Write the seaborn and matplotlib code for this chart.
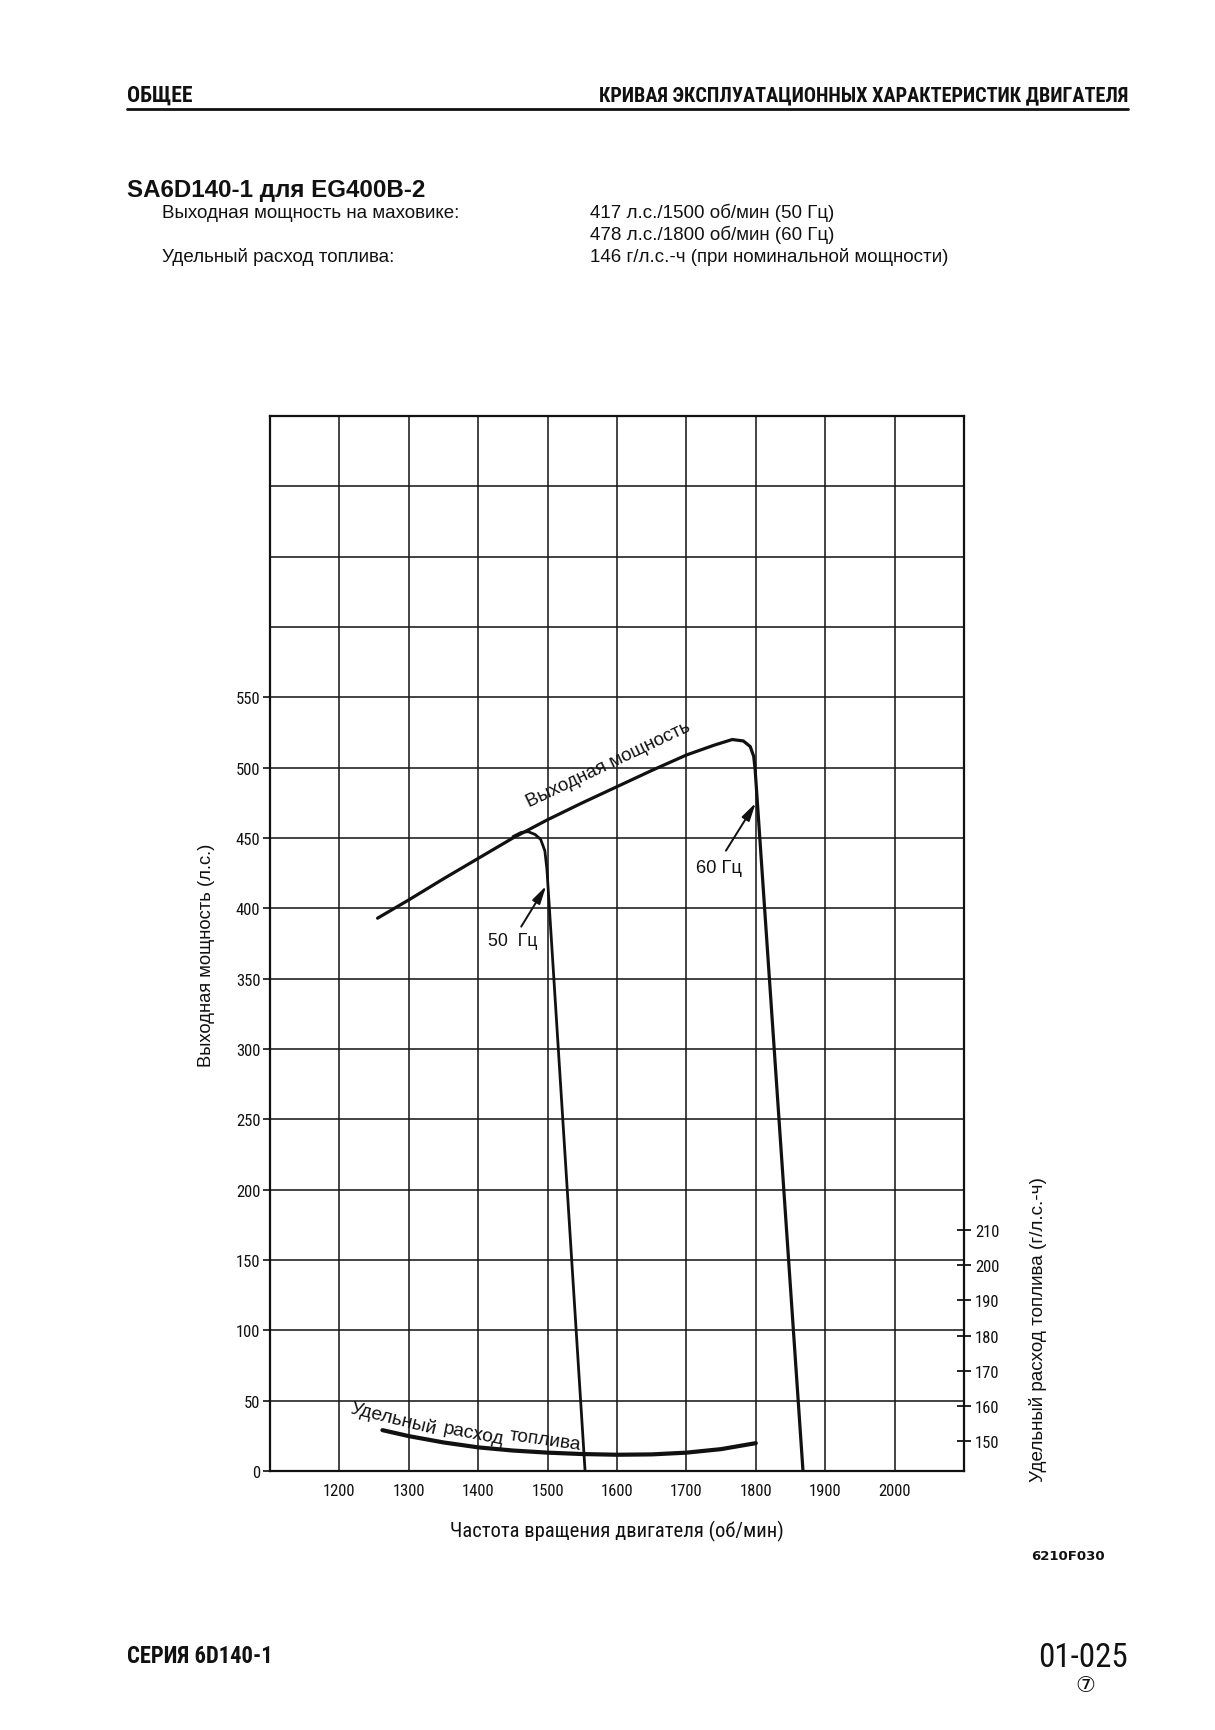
import matplotlib
matplotlib.use("Agg")
import matplotlib.pyplot as plt
import matplotlib.font_manager as fm
from matplotlib.lines import Line2D
import seaborn as sns
import pandas as pd

# ---------------- data ----------------
rpm_ticks = [1200, 1300, 1400, 1500, 1600, 1700, 1800, 1900, 2000]
hp_ticks = [0, 50, 100, 150, 200, 250, 300, 350, 400, 450, 500, 550]
fuel_ticks = [150, 160, 170, 180, 190, 200, 210]

# output power curve incl. 60 Hz governor droop
power_rpm = [1255, 1300, 1350, 1400, 1450, 1500, 1550, 1600, 1650, 1700, 1740,
             1766, 1782, 1792, 1797, 1799, 1868]
power_hp = [393, 406, 421, 435.5, 450, 463, 475, 486.5, 498, 509, 516,
            520, 519, 515, 508, 499, 0]

# 50 Hz governor droop branch
g50_rpm = [1450, 1462, 1472, 1482, 1490, 1496, 1499, 1554]
g50_hp = [451, 454, 454.5, 452.5, 449, 441, 428, 0]

# specific fuel consumption (g/hp-h)
fuel_rpm = [1262, 1300, 1350, 1400, 1450, 1500, 1550, 1600, 1650, 1700, 1750, 1800]
fuel_g = [153.1, 151.4, 149.6, 148.2, 147.3, 146.7, 146.3, 146.1, 146.2, 146.7, 147.7, 149.4]

power_df = pd.DataFrame({"rpm": power_rpm, "hp": power_hp})
g50_df = pd.DataFrame({"rpm": g50_rpm, "hp": g50_hp})
fuel_df = pd.DataFrame({"rpm": fuel_rpm, "g": fuel_g})

# ---------------- style ----------------
sns.set_theme(style="white")
plt.rcParams["font.family"] = ["Liberation Sans", "DejaVu Sans"]
REG = ["Liberation Sans", "DejaVu Sans"]

names = {f.name for f in fm.fontManager.ttflist}
NARROW = REG
for cand in ["Liberation Sans Narrow", "Roboto Condensed", "Open Sans Condensed",
             "Noto Sans Condensed", "DejaVu Sans Condensed"]:
    if cand in names:
        NARROW = [cand, "DejaVu Sans"]
        break

W, H = 1215, 1731
fig = plt.figure(figsize=(W / 100, H / 100), dpi=100)
fig.patch.set_facecolor("white")

def fx(px):
    return px / W

def fy(py):
    return 1 - py / H

ax_l, ax_r, ax_t, ax_b = 270, 964, 417, 1472
ax = fig.add_axes([fx(ax_l), fy(ax_b), (ax_r - ax_l) / W, (ax_b - ax_t) / H])
ax.set_facecolor("white")

ax.set_xlim(1100, 2100)
ax.set_ylim(0, 750)
ax.set_xticks(rpm_ticks)
ax.set_xticks([1100, 2100], minor=True)
ax.set_yticks(hp_ticks)
ax.set_yticks([600, 650, 700, 750], minor=True)
ax.grid(True, which="both", color="#1a1a1a", lw=1.15)
ax.set_xticklabels([str(v) for v in rpm_ticks], fontfamily=NARROW, fontsize=12)
ax.set_yticklabels([str(v) for v in hp_ticks], fontfamily=NARROW, fontsize=12)
ax.tick_params(axis="x", which="both", length=0, pad=9, colors="#111")
ax.tick_params(axis="y", which="major", length=5, width=1.2, pad=2, direction="out",
               colors="#111", left=True)
ax.tick_params(axis="y", which="minor", length=0)
for s in ax.spines.values():
    s.set_visible(True)
    s.set_color("#111")
    s.set_linewidth(1.6)

sns.lineplot(data=power_df, x="rpm", y="hp", ax=ax, color="#111", lw=2.3,
             sort=False, estimator=None)
sns.lineplot(data=g50_df, x="rpm", y="hp", ax=ax, color="#111", lw=2.0,
             sort=False, estimator=None)

ax.set_xlabel("Частота вращения двигателя (об/мин)", fontfamily=NARROW, fontsize=14,
              color="#111", va="center")
ax.xaxis.set_label_coords(0.5, -0.056)
ax.set_ylabel("Выходная мощность (л.с.)", fontfamily=REG, fontsize=13.2,
              color="#111", va="center")
ax.yaxis.set_label_coords(-0.092, 0.49)

# right axis: specific fuel consumption
ax2 = ax.twinx()
ax2.set_ylim(141.48, 441.48)
ax2.set_yticks(fuel_ticks)
ax2.set_yticklabels([str(v) for v in fuel_ticks], fontfamily=NARROW, fontsize=12)
ax2.tick_params(axis="y", length=10, width=1.3, direction="inout", pad=3, colors="#111")
for s in ax2.spines.values():
    s.set_visible(False)
ax2.grid(False)
sns.lineplot(data=fuel_df, x="rpm", y="g", ax=ax2, color="#111", lw=3.0,
             sort=False, estimator=None)
ax2.set_ylabel("Удельный расход топлива (г/л.с.-ч)", fontfamily=REG, fontsize=13.6,
               color="#111", va="center")
ax2.yaxis.set_label_coords(1.107, 0.135)
ax2.set_xlim(1100, 2100)

# curve annotations
ax.text(1587, 503, "Выходная мощность", rotation=25.4, rotation_mode="anchor",
        ha="center", va="center", fontfamily=REG, fontsize=13.6, color="#111")
for word, wx, wy, rot in [("Удельный", 1278, 38.0, -14), ("расход", 1393, 26.5, -11),
                          ("топлива", 1496, 22.0, -8)]:
    ax.text(wx, wy, word, rotation=rot, rotation_mode="anchor", ha="center",
            va="center", fontfamily=REG, fontsize=13.8, color="#111")
ax.annotate("", xy=(1498, 416), xytext=(1462, 387),
            arrowprops=dict(arrowstyle="-|>,head_length=0.9,head_width=0.22",
                            color="#111", lw=1.4, shrinkA=0, shrinkB=0))
ax.text(1449, 377, "50  Гц", ha="center", va="center", fontfamily=REG,
        fontsize=12.8, color="#111")
ax.annotate("", xy=(1800, 475), xytext=(1757, 441),
            arrowprops=dict(arrowstyle="-|>,head_length=0.9,head_width=0.22",
                            color="#111", lw=1.4, shrinkA=0, shrinkB=0))
ax.text(1747, 429, "60 Гц", ha="center", va="center", fontfamily=REG,
        fontsize=13.2, color="#111")

# ---------------- page texts ----------------
t_left = fig.text(fx(127), fy(96), "ОБЩЕЕ", ha="left", va="center", fontfamily=NARROW,
                  fontsize=15, fontweight="bold", color="#111")
t_right = fig.text(fx(1128), fy(96), "КРИВАЯ ЭКСПЛУАТАЦИОННЫХ ХАРАКТЕРИСТИК ДВИГАТЕЛЯ",
                   ha="right", va="center", fontfamily=NARROW, fontsize=15,
                   fontweight="bold", color="#111")
fig.add_artist(Line2D([fx(127), fx(1128)], [fy(110), fy(110)], color="#111", lw=2.0))

fig.text(fx(127), fy(190), "SA6D140-1 для EG400B-2", ha="left", va="center",
         fontfamily=REG, fontsize=17.4, fontweight="bold", color="#111")
fig.text(fx(162), fy(213), "Выходная мощность на маховике:", ha="left", va="center",
         fontfamily=REG, fontsize=13.5, color="#111")
fig.text(fx(590), fy(213), "417 л.с./1500 об/мин (50 Гц)", ha="left", va="center",
         fontfamily=REG, fontsize=13.5, color="#111")
fig.text(fx(590), fy(235), "478 л.с./1800 об/мин (60 Гц)", ha="left", va="center",
         fontfamily=REG, fontsize=13.5, color="#111")
fig.text(fx(162), fy(257), "Удельный расход топлива:", ha="left", va="center",
         fontfamily=REG, fontsize=13.5, color="#111")
fig.text(fx(590), fy(257), "146 г/л.с.-ч (при номинальной мощности)", ha="left",
         va="center", fontfamily=REG, fontsize=13.5, color="#111")

fig.text(fx(1105), fy(1557), "6210F030", ha="right", va="center",
         fontfamily=["DejaVu Sans"], fontsize=9.5, fontweight="bold", color="#111")
t_series = fig.text(fx(127), fy(1657), "СЕРИЯ 6D140-1", ha="left", va="center",
                    fontfamily=NARROW, fontsize=14, fontweight="bold", color="#111")
t_page = fig.text(fx(1128), fy(1658), "01-025", ha="right", va="center",
                  fontfamily=NARROW, fontsize=22, color="#111")
fig.text(fx(1085), fy(1686), "⑦", ha="center", va="center",
         fontfamily=["DejaVu Sans", "Noto Sans CJK JP"], fontsize=16, color="#111")

# fit a few text widths to the page layout
renderer = fig.canvas.get_renderer()
for t, target in [(t_left, 66), (t_right, 534), (t_series, 146), (t_page, 90),
                  (ax.xaxis.label, 334)]:
    w = t.get_window_extent(renderer).width
    if w > 0:
        t.set_fontsize(t.get_fontsize() * target / w)

fig.savefig("out.png", dpi=100, facecolor="white")
